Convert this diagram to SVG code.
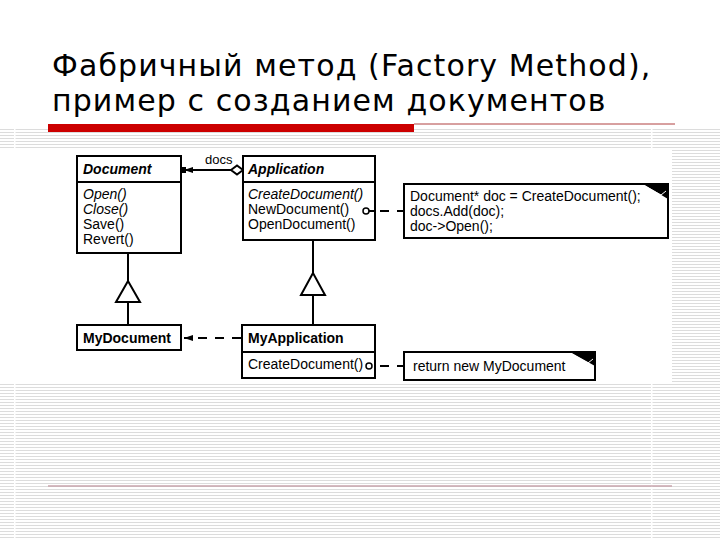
<svg xmlns="http://www.w3.org/2000/svg" width="720" height="540" viewBox="0 0 720 540">
<defs>
<pattern id="stripes" patternUnits="userSpaceOnUse" x="0" y="129" width="6" height="3">
<rect x="0" y="0" width="6" height="1" fill="#dcdcdc"/>
</pattern>
<marker id="filled" markerWidth="10" markerHeight="8" refX="9" refY="4" orient="auto" markerUnits="userSpaceOnUse">
<path d="M0,1 L9,4 L0,7 Z" fill="#000"/>
</marker>
<marker id="diamond" markerWidth="14" markerHeight="12" refX="13" refY="6" orient="auto-start-reverse" markerUnits="userSpaceOnUse">
<path d="M1,6 L7,1.5 L13,6 L7,10.5 Z" fill="#fff" stroke="#000" stroke-width="2"/>
</marker>
</defs>
<style>
.box{fill:#fff;stroke:#000;stroke-width:2}
.ln{stroke:#000;stroke-width:2;fill:none}
.dash{stroke:#000;stroke-width:2;fill:none;stroke-dasharray:9,8}
.t{font-family:"Liberation Sans",Arial,sans-serif;font-size:14px;fill:#000}
.b{font-weight:bold}
.i{font-style:italic}
.title{font-family:"DejaVu Sans",Verdana,sans-serif;font-size:30px;letter-spacing:1.1px;fill:#000}
</style>
<!-- background -->
<rect x="0" y="0" width="720" height="540" fill="#fff"/>
<rect x="0" y="129" width="720" height="411" fill="url(#stripes)"/>
<rect x="14" y="129" width="1.5" height="411" fill="#fff"/>
<rect x="651" y="129" width="1.5" height="411" fill="#fff"/>
<rect x="0" y="150" width="672" height="234" fill="#fff"/>
<line x1="48" y1="486" x2="672" y2="486" stroke="#c8a4ac" stroke-width="1.5"/>
<rect x="48" y="124" width="366" height="8" fill="#cc0000"/>
<line x1="414" y1="124" x2="675" y2="124" stroke="#b04040" stroke-width="1"/>
<text class="title" x="52" y="76">Фабричный метод (Factory Method),</text>
<text class="title" x="52" y="111">пример с созданием документов</text>

<g id="Document">
<rect class="box" x="77" y="156" width="104" height="97"/>
<line class="ln" x1="77" y1="182" x2="181" y2="182"/>
<text class="t b i" x="83" y="174">Document</text>
<text class="t i" x="83" y="199">Open()</text>
<text class="t i" x="83" y="214">Close()</text>
<text class="t" x="83" y="229">Save()</text>
<text class="t" x="83" y="244">Revert()</text>
</g>

<g id="Application">
<rect class="box" x="243" y="156" width="132" height="84"/>
<line class="ln" x1="243" y1="182" x2="375" y2="182"/>
<text class="t b i" x="248" y="174">Application</text>
<text class="t i" x="248" y="199">CreateDocument()</text>
<text class="t" x="248" y="214">NewDocument()</text>
<text class="t" x="248" y="229">OpenDocument()</text>
</g>

<g id="Note1">
<rect class="box" x="404" y="184" width="264" height="54"/>
<polygon points="643,184 668,184 668,199" fill="#000"/>
<polyline points="645,186 661,195 666,191" fill="none" stroke="#fff" stroke-width="1"/>
<text class="t" x="410" y="201">Document* doc = CreateDocument();</text>
<text class="t" x="410" y="216">docs.Add(doc);</text>
<text class="t" x="410" y="231">doc-&gt;Open();</text>
</g>

<g id="MyDocument">
<rect class="box" x="77" y="325" width="104" height="25"/>
<text class="t b" x="83" y="343">MyDocument</text>
</g>

<g id="MyApplication">
<rect class="box" x="242" y="325" width="133" height="53"/>
<line class="ln" x1="242" y1="352" x2="375" y2="352"/>
<text class="t b" x="248" y="343">MyApplication</text>
<text class="t" x="248" y="369">CreateDocument()</text>
</g>

<g id="Note2">
<rect class="box" x="404" y="352" width="191" height="28"/>
<polygon points="570,352 595,352 595,366" fill="#000"/>
<polyline points="572,354 588,363 593,359" fill="none" stroke="#fff" stroke-width="1"/>
<text class="t" x="413" y="371">return new MyDocument</text>
</g>

<g id="connectors">
<line class="ln" x1="243" y1="170" x2="184" y2="170" marker-end="url(#filled)" marker-start="url(#diamond)"/>
<rect x="182" y="167" width="4" height="6" fill="#000"/>
<text class="t" x="205" y="164" style="font-size:13px">docs</text>
<line class="ln" x1="128" y1="254" x2="128" y2="281"/>
<polygon points="128,281 116,302 140,302" fill="#fff" stroke="#000" stroke-width="2"/>
<line class="ln" x1="128" y1="302" x2="128" y2="324"/>
<line class="ln" x1="313" y1="241" x2="313" y2="273"/>
<polygon points="313,273 301,295 325,295" fill="#fff" stroke="#000" stroke-width="2"/>
<line class="ln" x1="313" y1="295" x2="313" y2="324"/>
<line class="dash" x1="241" y1="338" x2="184" y2="338" marker-end="url(#filled)"/>
<circle cx="366" cy="211" r="3" fill="#fff" stroke="#000" stroke-width="1.5"/>
<line class="ln" x1="369" y1="211" x2="374" y2="211"/>
<line class="dash" x1="380" y1="211" x2="404" y2="211" stroke-dasharray="8,8"/>
<circle cx="369" cy="366" r="3" fill="#fff" stroke="#000" stroke-width="1.5"/>
<line class="dash" x1="380" y1="366" x2="404" y2="366" stroke-dasharray="8,8"/>
</g>
</svg>
